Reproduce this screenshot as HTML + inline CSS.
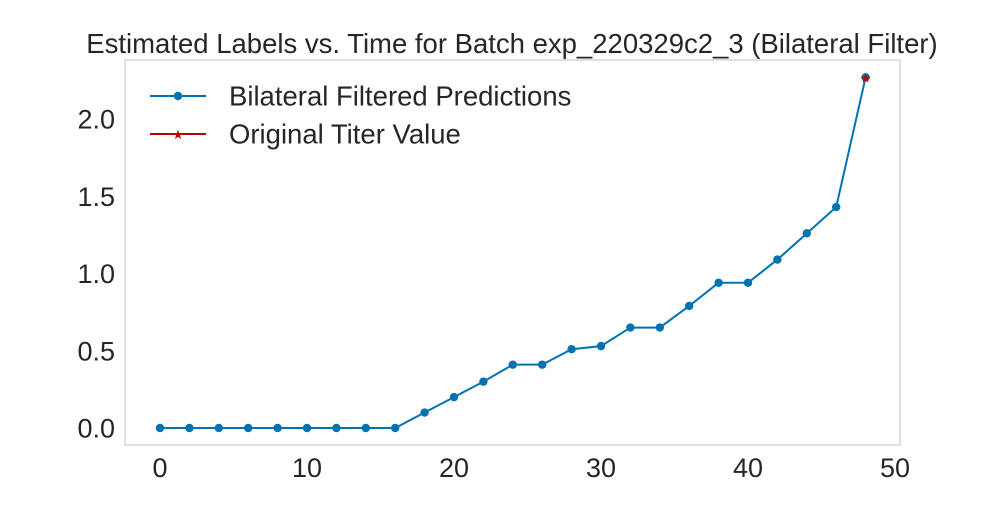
<!DOCTYPE html>
<html><head><meta charset="utf-8"><style>
body{margin:0;background:#fff;}
svg text{font-family:"Liberation Sans",sans-serif;fill:#262626;}
</style></head><body>
<svg id="chart" width="1000" height="500">
<rect x="0" y="0" width="1000" height="500" fill="#fff"/>
<rect x="125" y="60" width="775" height="385" fill="none" stroke="#cccccc" stroke-width="1.2"/>
<text x="512" y="53" font-size="27.5" text-anchor="middle">Estimated Labels vs. Time for Batch exp_220329c2_3 (Bilateral Filter)</text>
<g id="xt"></g><g id="yt"></g><g id="series"></g>
<g>
<line x1="150" y1="96" x2="206" y2="96" stroke="#0072b2" stroke-width="2"/>
<circle cx="178" cy="96" r="4.2" fill="#0072b2"/>
<text x="229" y="105.5" font-size="27.5">Bilateral Filtered Predictions</text>
<line x1="150" y1="134" x2="206" y2="134" stroke="#c00000" stroke-width="2"/>
<text x="178" y="139" font-size="13" text-anchor="middle" style="fill:#c00000">★</text>
<text x="229" y="143.5" font-size="27.5">Original Titer Value</text>
</g>
</svg>
<script>
const times=[0,2,4,6,8,10,12,14,16,18,20,22,24,26,28,30,32,34,36,38,40,42,44,46,48];
const preds=[0,0,0,0,0,0,0,0,0,0.1,0.2,0.3,0.41,0.41,0.51,0.53,0.65,0.65,0.79,0.94,0.94,1.09,1.26,1.43,2.27];
const titerTime=[48];
const titerVal=[2.27];
const xTicks=[0,10,20,30,40,50];
const yTicks=[0.0,0.5,1.0,1.5,2.0];
const NS="http://www.w3.org/2000/svg";
const xs=v=>160+v*14.7;
const ys=v=>428-v*154.5;
const xt=document.getElementById('xt'),yt=document.getElementById('yt'),sg=document.getElementById('series');
xTicks.forEach(t=>{const e=document.createElementNS(NS,'text');e.setAttribute('x',xs(t));e.setAttribute('y',477);e.setAttribute('font-size','27');e.setAttribute('text-anchor','middle');e.textContent=t;


xt.appendChild(e);});
yTicks.forEach(t=>{const e=document.createElementNS(NS,'text');e.setAttribute('x',115);e.setAttribute('y',ys(t)+9.5);e.setAttribute('font-size','27');e.setAttribute('text-anchor','end');e.textContent=t.toFixed(1);


yt.appendChild(e);});
const pl=document.createElementNS(NS,'polyline');
pl.setAttribute('points',times.map((t,i)=>xs(t)+','+ys(preds[i])).join(' '));
pl.setAttribute('fill','none');pl.setAttribute('stroke','#0072b2');pl.setAttribute('stroke-width','2');


sg.appendChild(pl);
times.forEach((t,i)=>{const c=document.createElementNS(NS,'circle');c.setAttribute('cx',xs(t));c.setAttribute('cy',ys(preds[i]));c.setAttribute('r','4.2');c.setAttribute('fill','#0072b2');


sg.appendChild(c);});
titerTime.forEach((t,i)=>{const e=document.createElementNS(NS,'text');e.setAttribute('x',xs(t));e.setAttribute('y',ys(titerVal[i])+5);e.setAttribute('font-size','13');e.setAttribute('text-anchor','middle');e.setAttribute('style','fill:#c00000');e.textContent='★';


sg.appendChild(e);});
</script>
</body></html>
